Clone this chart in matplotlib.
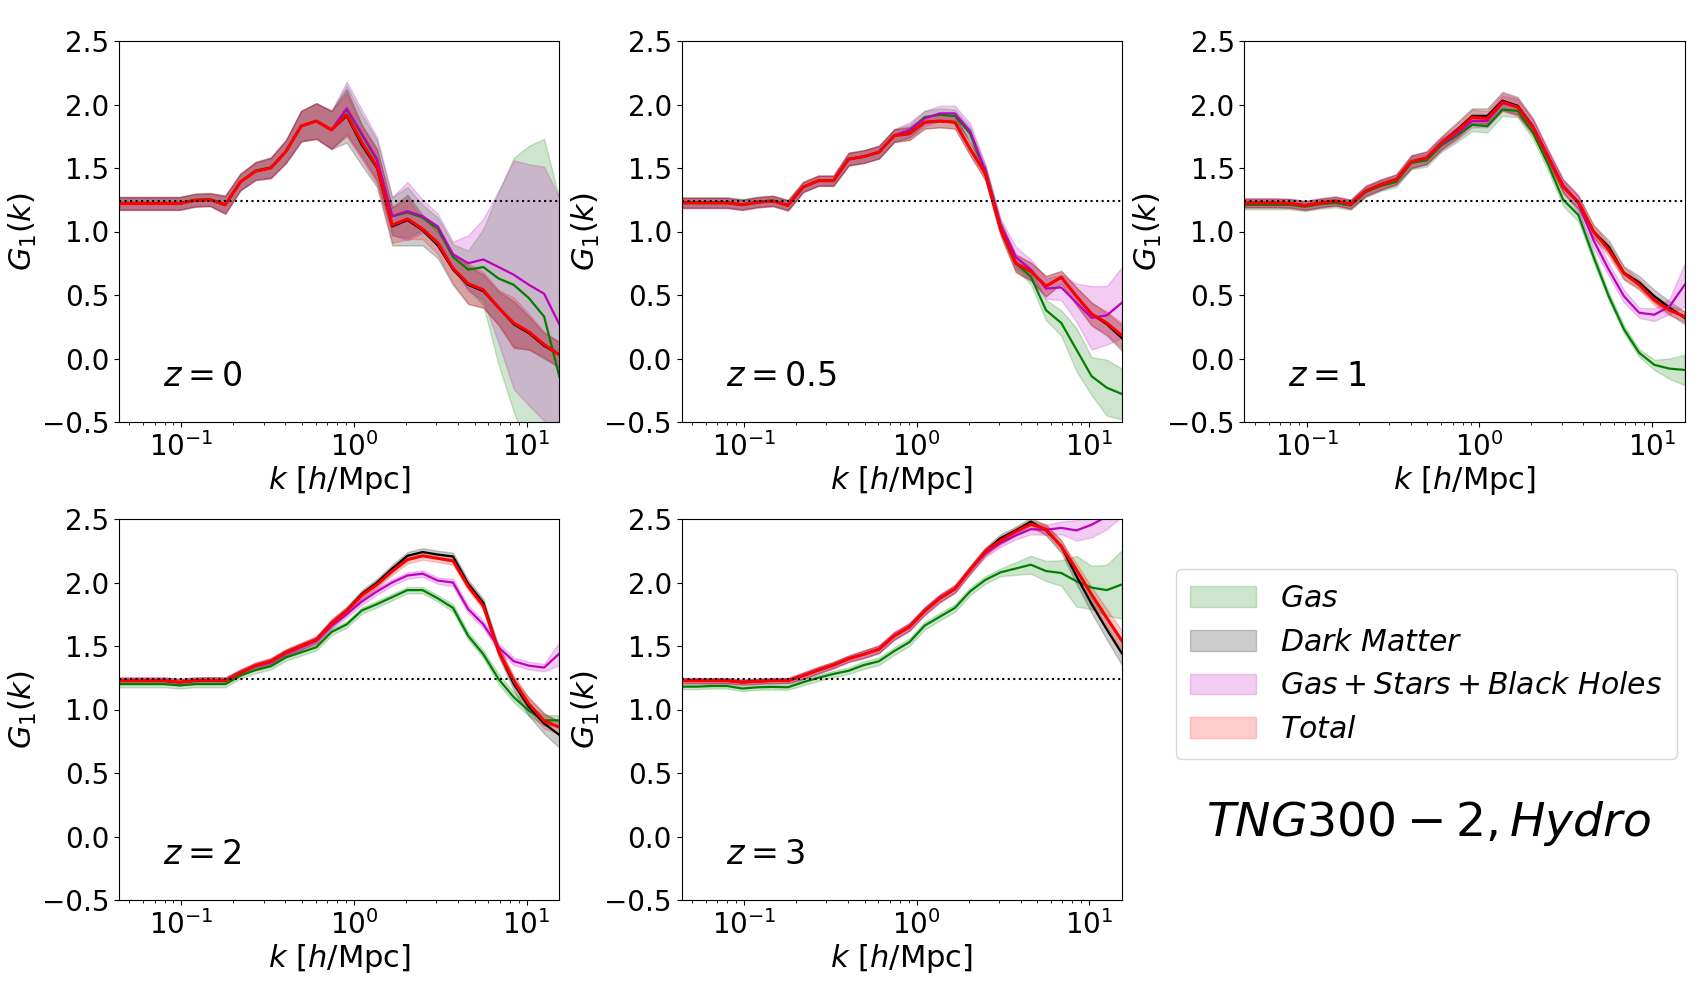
import numpy as np
import matplotlib.pyplot as plt

# k bins [h/Mpc]
k = [0.0435, 0.0532, 0.0652, 0.0798, 0.0977, 0.1197, 0.1466, 0.1795, 0.2198, 0.2692,
     0.3296, 0.4036, 0.4943, 0.6053, 0.7413, 0.9078, 1.112, 1.361, 1.667, 2.042,
     2.500, 3.062, 3.750, 4.592, 5.623, 6.887, 8.433, 10.33, 12.65, 15.49]

G1_lin = 26. / 21.

# ---- z = 0
gas_z0 = [1.225, 1.225, 1.225, 1.225, 1.225, 1.25, 1.255, 1.215, 1.39, 1.48, 1.505, 1.63, 1.83, 1.87, 1.80,
          1.96, 1.76, 1.56, 1.12, 1.15, 1.11, 1.02, 0.80, 0.70, 0.72, 0.63, 0.58, 0.475, 0.33, -0.14]
dm_z0 = [1.22, 1.22, 1.22, 1.22, 1.22, 1.245, 1.25, 1.21, 1.39, 1.475, 1.50, 1.63, 1.83, 1.87, 1.80,
         1.91, 1.68, 1.50, 1.04, 1.09, 1.01, 0.89, 0.70, 0.58, 0.53, 0.40, 0.27, 0.20, 0.10, 0.03]
gsb_z0 = [1.22, 1.22, 1.22, 1.22, 1.22, 1.245, 1.25, 1.21, 1.39, 1.475, 1.50, 1.63, 1.83, 1.87, 1.80,
          1.97, 1.77, 1.57, 1.12, 1.16, 1.12, 1.04, 0.82, 0.75, 0.78, 0.72, 0.66, 0.58, 0.51, 0.27]
tot_z0 = [1.22, 1.22, 1.22, 1.22, 1.22, 1.245, 1.25, 1.21, 1.39, 1.475, 1.50, 1.63, 1.83, 1.87, 1.80,
          1.92, 1.70, 1.51, 1.05, 1.10, 1.02, 0.91, 0.71, 0.59, 0.54, 0.40, 0.28, 0.21, 0.11, 0.03]
gas_z0_err = [0.05, 0.05, 0.05, 0.05, 0.05, 0.05, 0.05, 0.07, 0.065, 0.07, 0.08, 0.09, 0.12, 0.14, 0.15,
              0.19, 0.16, 0.16, 0.15, 0.20, 0.10, 0.09, 0.10, 0.15, 0.30, 0.68, 1.00, 1.20, 1.40, 1.40]
dm_z0_err = [0.05, 0.05, 0.05, 0.05, 0.05, 0.05, 0.05, 0.07, 0.065, 0.07, 0.08, 0.09, 0.12, 0.14, 0.15,
             0.21, 0.16, 0.15, 0.15, 0.20, 0.12, 0.10, 0.12, 0.15, 0.13, 0.13, 0.18, 0.13, 0.10, 0.10]
gsb_z0_err = [0.05, 0.05, 0.05, 0.05, 0.05, 0.05, 0.05, 0.07, 0.065, 0.07, 0.08, 0.09, 0.12, 0.14, 0.15,
              0.21, 0.19, 0.17, 0.15, 0.23, 0.13, 0.10, 0.10, 0.22, 0.32, 0.60, 0.90, 0.95, 1.00, 1.00]
tot_z0_err = [0.05, 0.05, 0.05, 0.05, 0.05, 0.05, 0.05, 0.07, 0.065, 0.07, 0.08, 0.09, 0.12, 0.14, 0.15,
              0.17, 0.13, 0.14, 0.14, 0.16, 0.08, 0.09, 0.12, 0.16, 0.14, 0.14, 0.20, 0.14, 0.10, 0.10]

# ---- z = 0.5
gas_z05 = [1.23, 1.23, 1.23, 1.23, 1.215, 1.235, 1.245, 1.21, 1.35, 1.40, 1.40, 1.57, 1.59, 1.625, 1.755,
           1.79, 1.90, 1.92, 1.91, 1.77, 1.47, 1.04, 0.75, 0.645, 0.38, 0.28, 0.07, -0.14, -0.23, -0.28]
dm_z05 = [1.225, 1.225, 1.225, 1.225, 1.21, 1.23, 1.24, 1.205, 1.35, 1.40, 1.40, 1.57, 1.59, 1.625, 1.755,
          1.77, 1.86, 1.87, 1.86, 1.65, 1.455, 1.02, 0.75, 0.685, 0.57, 0.64, 0.49, 0.35, 0.27, 0.16]
gsb_z05 = [1.225, 1.225, 1.225, 1.225, 1.21, 1.23, 1.24, 1.205, 1.35, 1.40, 1.40, 1.57, 1.59, 1.625, 1.755,
           1.80, 1.89, 1.93, 1.93, 1.79, 1.48, 1.05, 0.80, 0.70, 0.55, 0.56, 0.44, 0.32, 0.34, 0.44]
tot_z05 = [1.225, 1.225, 1.225, 1.225, 1.21, 1.23, 1.24, 1.205, 1.35, 1.40, 1.40, 1.57, 1.59, 1.625, 1.755,
           1.77, 1.86, 1.87, 1.86, 1.65, 1.455, 1.02, 0.75, 0.685, 0.57, 0.64, 0.49, 0.35, 0.28, 0.18]
gas_z05_err = [0.04, 0.04, 0.04, 0.04, 0.04, 0.04, 0.04, 0.04, 0.04, 0.04, 0.04, 0.05, 0.05, 0.05, 0.05,
               0.05, 0.05, 0.05, 0.05, 0.05, 0.05, 0.05, 0.05, 0.06, 0.08, 0.10, 0.17, 0.15, 0.22, 0.20]
dm_z05_err = [0.04, 0.04, 0.04, 0.04, 0.04, 0.04, 0.04, 0.04, 0.04, 0.04, 0.04, 0.05, 0.05, 0.05, 0.05,
              0.05, 0.05, 0.05, 0.05, 0.05, 0.05, 0.05, 0.07, 0.07, 0.08, 0.05, 0.07, 0.09, 0.09, 0.10]
gsb_z05_err = [0.04, 0.04, 0.04, 0.04, 0.04, 0.04, 0.04, 0.04, 0.04, 0.04, 0.04, 0.05, 0.05, 0.05, 0.05,
               0.06, 0.06, 0.06, 0.06, 0.06, 0.05, 0.05, 0.08, 0.08, 0.08, 0.10, 0.15, 0.25, 0.23, 0.28]
tot_z05_err = [0.04, 0.04, 0.04, 0.04, 0.04, 0.04, 0.04, 0.04, 0.04, 0.04, 0.04, 0.05, 0.05, 0.05, 0.05,
               0.05, 0.05, 0.05, 0.05, 0.05, 0.05, 0.05, 0.07, 0.07, 0.08, 0.05, 0.07, 0.09, 0.09, 0.10]

# ---- z = 1
gas_z1 = [1.21, 1.21, 1.21, 1.21, 1.195, 1.215, 1.225, 1.205, 1.31, 1.36, 1.39, 1.54, 1.56, 1.68, 1.755,
          1.84, 1.83, 1.96, 1.95, 1.78, 1.53, 1.25, 1.13, 0.80, 0.49, 0.23, 0.045, -0.05, -0.08, -0.09]
dm_z1 = [1.225, 1.225, 1.225, 1.222, 1.205, 1.225, 1.24, 1.215, 1.32, 1.37, 1.41, 1.55, 1.58, 1.70, 1.80,
         1.91, 1.91, 2.03, 1.99, 1.83, 1.59, 1.36, 1.23, 1.00, 0.88, 0.675, 0.60, 0.49, 0.40, 0.32]
gsb_z1 = [1.225, 1.225, 1.225, 1.222, 1.205, 1.225, 1.24, 1.215, 1.32, 1.37, 1.41, 1.55, 1.58, 1.69, 1.77,
          1.87, 1.87, 2.01, 1.98, 1.83, 1.60, 1.36, 1.22, 0.93, 0.70, 0.49, 0.36, 0.345, 0.41, 0.58]
tot_z1 = [1.225, 1.225, 1.225, 1.222, 1.205, 1.225, 1.24, 1.215, 1.32, 1.37, 1.41, 1.55, 1.58, 1.70, 1.79,
          1.90, 1.89, 2.02, 1.98, 1.82, 1.585, 1.35, 1.23, 1.00, 0.855, 0.67, 0.58, 0.46, 0.38, 0.33]
gas_z1_err = [0.035, 0.035, 0.035, 0.035, 0.035, 0.035, 0.035, 0.035, 0.04, 0.04, 0.04, 0.05, 0.05, 0.05, 0.05,
              0.05, 0.05, 0.05, 0.05, 0.05, 0.05, 0.05, 0.05, 0.04, 0.03, 0.03, 0.03, 0.04, 0.08, 0.12]
dm_z1_err = [0.035, 0.035, 0.035, 0.035, 0.035, 0.035, 0.035, 0.035, 0.04, 0.04, 0.04, 0.05, 0.05, 0.05, 0.06,
             0.06, 0.06, 0.07, 0.07, 0.06, 0.05, 0.05, 0.05, 0.05, 0.05, 0.05, 0.05, 0.05, 0.05, 0.05]
gsb_z1_err = [0.035, 0.035, 0.035, 0.035, 0.035, 0.035, 0.035, 0.035, 0.04, 0.04, 0.04, 0.05, 0.05, 0.05, 0.05,
              0.05, 0.05, 0.06, 0.06, 0.06, 0.05, 0.05, 0.07, 0.06, 0.05, 0.05, 0.04, 0.05, 0.06, 0.17]
tot_z1_err = [0.035, 0.035, 0.035, 0.035, 0.035, 0.035, 0.035, 0.035, 0.04, 0.04, 0.04, 0.05, 0.05, 0.05, 0.06,
              0.06, 0.06, 0.07, 0.07, 0.06, 0.05, 0.05, 0.05, 0.05, 0.05, 0.05, 0.04, 0.04, 0.04, 0.04]

# ---- z = 2
gas_z2 = [1.20, 1.20, 1.20, 1.20, 1.19, 1.20, 1.20, 1.20, 1.27, 1.31, 1.34, 1.41, 1.45, 1.49, 1.61,
          1.67, 1.78, 1.83, 1.885, 1.94, 1.94, 1.875, 1.80, 1.58, 1.435, 1.24, 1.097, 0.99, 0.915, 0.915]
dm_z2 = [1.227, 1.227, 1.227, 1.227, 1.215, 1.227, 1.23, 1.227, 1.29, 1.345, 1.38, 1.45, 1.50, 1.55, 1.68,
         1.78, 1.91, 2.00, 2.11, 2.21, 2.24, 2.22, 2.205, 1.99, 1.84, 1.46, 1.20, 1.02, 0.89, 0.80]
gsb_z2 = [1.227, 1.227, 1.227, 1.227, 1.215, 1.227, 1.23, 1.227, 1.29, 1.34, 1.37, 1.44, 1.49, 1.54, 1.66,
          1.75, 1.85, 1.93, 2.00, 2.055, 2.07, 2.015, 2.00, 1.79, 1.67, 1.49, 1.38, 1.345, 1.33, 1.44]
tot_z2 = [1.227, 1.227, 1.227, 1.227, 1.215, 1.227, 1.23, 1.227, 1.29, 1.345, 1.38, 1.45, 1.50, 1.55, 1.68,
          1.775, 1.90, 1.985, 2.09, 2.18, 2.21, 2.19, 2.17, 1.97, 1.815, 1.46, 1.227, 1.044, 0.91, 0.86]
gas_z2_err = [0.025, 0.025, 0.025, 0.025, 0.025, 0.025, 0.025, 0.025, 0.025, 0.025, 0.025, 0.025, 0.025, 0.025, 0.025,
              0.025, 0.025, 0.025, 0.025, 0.025, 0.025, 0.025, 0.03, 0.03, 0.03, 0.04, 0.04, 0.04, 0.04, 0.04]
dm_z2_err = [0.025, 0.025, 0.025, 0.025, 0.025, 0.025, 0.025, 0.025, 0.025, 0.025, 0.025, 0.025, 0.025, 0.025, 0.03,
             0.03, 0.03, 0.03, 0.03, 0.03, 0.03, 0.03, 0.03, 0.03, 0.03, 0.04, 0.05, 0.07, 0.08, 0.10]
gsb_z2_err = [0.025, 0.025, 0.025, 0.025, 0.025, 0.025, 0.025, 0.025, 0.025, 0.025, 0.025, 0.025, 0.025, 0.025, 0.025,
              0.025, 0.025, 0.025, 0.025, 0.025, 0.025, 0.025, 0.03, 0.03, 0.03, 0.03, 0.03, 0.03, 0.03, 0.09]
tot_z2_err = [0.025, 0.025, 0.025, 0.025, 0.025, 0.025, 0.025, 0.025, 0.025, 0.025, 0.025, 0.025, 0.025, 0.025, 0.03,
              0.03, 0.03, 0.03, 0.03, 0.03, 0.03, 0.03, 0.03, 0.03, 0.03, 0.04, 0.04, 0.05, 0.06, 0.05]

# ---- z = 3
gas_z3 = [1.18, 1.18, 1.185, 1.185, 1.165, 1.175, 1.178, 1.175, 1.215, 1.25, 1.28, 1.305, 1.35, 1.38, 1.46,
          1.53, 1.66, 1.73, 1.80, 1.93, 2.02, 2.08, 2.11, 2.14, 2.09, 2.075, 2.01, 1.96, 1.94, 1.985]
dm_z3 = [1.227, 1.227, 1.227, 1.227, 1.215, 1.222, 1.227, 1.227, 1.266, 1.31, 1.35, 1.40, 1.435, 1.475, 1.58,
         1.65, 1.775, 1.875, 1.95, 2.10, 2.245, 2.35, 2.41, 2.48, 2.41, 2.285, 2.05, 1.83, 1.63, 1.44]
gsb_z3 = [1.227, 1.227, 1.227, 1.227, 1.215, 1.222, 1.227, 1.227, 1.266, 1.31, 1.35, 1.40, 1.435, 1.475, 1.58,
          1.65, 1.775, 1.875, 1.95, 2.10, 2.23, 2.31, 2.37, 2.42, 2.415, 2.43, 2.41, 2.455, 2.52, 2.62]
tot_z3 = [1.227, 1.227, 1.227, 1.227, 1.215, 1.222, 1.227, 1.227, 1.266, 1.31, 1.35, 1.40, 1.435, 1.475, 1.58,
          1.65, 1.775, 1.875, 1.95, 2.10, 2.245, 2.33, 2.40, 2.46, 2.42, 2.285, 2.10, 1.905, 1.72, 1.54]
gas_z3_err = [0.02, 0.02, 0.02, 0.02, 0.02, 0.02, 0.02, 0.02, 0.025, 0.025, 0.025, 0.025, 0.03, 0.03, 0.03,
              0.03, 0.03, 0.03, 0.03, 0.03, 0.03, 0.03, 0.05, 0.07, 0.08, 0.10, 0.20, 0.17, 0.20, 0.27]
dm_z3_err = [0.02, 0.02, 0.02, 0.02, 0.02, 0.02, 0.02, 0.02, 0.025, 0.025, 0.025, 0.025, 0.03, 0.03, 0.03,
             0.03, 0.03, 0.03, 0.03, 0.03, 0.03, 0.03, 0.03, 0.03, 0.04, 0.05, 0.06, 0.07, 0.08, 0.09]
gsb_z3_err = [0.02, 0.02, 0.02, 0.02, 0.02, 0.02, 0.02, 0.02, 0.025, 0.025, 0.025, 0.025, 0.03, 0.03, 0.03,
              0.03, 0.03, 0.03, 0.03, 0.03, 0.03, 0.03, 0.03, 0.04, 0.04, 0.05, 0.08, 0.10, 0.10, 0.10]
tot_z3_err = [0.02, 0.02, 0.02, 0.02, 0.02, 0.02, 0.02, 0.02, 0.025, 0.025, 0.025, 0.025, 0.03, 0.03, 0.03,
              0.03, 0.03, 0.03, 0.03, 0.03, 0.03, 0.03, 0.03, 0.03, 0.04, 0.04, 0.05, 0.06, 0.07, 0.08]

redshifts = ['0', '0.5', '1', '2', '3']
labels = [r'$Gas$', r'$Dark\ Matter$', r'$Gas+Stars+Black\ Holes$', r'$Total$']
colors = ['g', 'k', 'm', 'r']

panels = [
    ([gas_z0, dm_z0, gsb_z0, tot_z0], [gas_z0_err, dm_z0_err, gsb_z0_err, tot_z0_err]),
    ([gas_z05, dm_z05, gsb_z05, tot_z05], [gas_z05_err, dm_z05_err, gsb_z05_err, tot_z05_err]),
    ([gas_z1, dm_z1, gsb_z1, tot_z1], [gas_z1_err, dm_z1_err, gsb_z1_err, tot_z1_err]),
    ([gas_z2, dm_z2, gsb_z2, tot_z2], [gas_z2_err, dm_z2_err, gsb_z2_err, tot_z2_err]),
    ([gas_z3, dm_z3, gsb_z3, tot_z3], [gas_z3_err, dm_z3_err, gsb_z3_err, tot_z3_err]),
]

# axes positions (figure fractions)
ax_pos = [(0.070, 0.578), (0.401, 0.578), (0.732, 0.578), (0.070, 0.100), (0.401, 0.100)]
ax_w, ax_h = 0.259, 0.381

plt.rcParams['font.size'] = 20
fig = plt.figure(figsize=(17, 10), dpi=100)

kk = np.array(k)
handles = []
for n, (means, errs) in enumerate(panels):
    ax = fig.add_axes([ax_pos[n][0], ax_pos[n][1], ax_w, ax_h])
    for j in range(4):
        m = np.array(means[j]); e = np.array(errs[j])
        h = ax.fill_between(kk, m - e, m + e, color=colors[j], alpha=0.2, label=labels[j])
        ax.plot(kk, m, color=colors[j], lw=2.2 if j == 3 else 1.6)
        if n == 0:
            handles.append(h)
    ax.axhline(G1_lin, color='k', ls=':', lw=1.5)
    ax.set_xscale('log')
    ax.set_xlim(kk[0], kk[-1])
    ax.set_ylim(-0.5, 2.5)
    ax.set_xlabel(r'$k\ [h/{\rm Mpc}]$', fontsize=22, labelpad=2)
    ax.set_ylabel(r'$G_1(k)$', fontsize=22, labelpad=2)
    ax.tick_params(labelsize=20)
    ax.text(0.1, 0.095, r'$z = %s$' % redshifts[n], transform=ax.transAxes, fontsize=24)

fig.legend(handles, labels, loc='center', bbox_to_anchor=(0.839, 0.336), fontsize=21.5,
           handlelength=2.2, borderpad=0.5, labelspacing=0.5)
fig.text(0.840, 0.176, r'$TNG300-2, Hydro$', fontsize=34, ha='center', va='center')

plt.savefig('out.png', dpi=100)
